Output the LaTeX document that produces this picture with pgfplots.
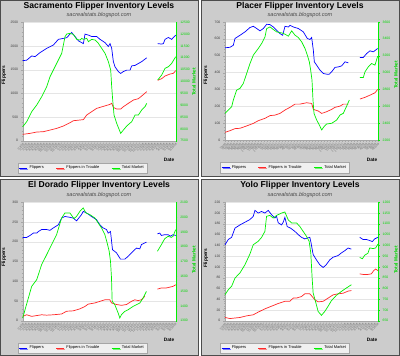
\documentclass[border=0pt]{standalone}
\usepackage{pgfplots}
\pgfplotsset{compat=1.18}
\usepackage{pgfplotstable}
\usepackage{fontspec}
\setmainfont{Liberation Sans}
\usetikzlibrary{shadows}
\definecolor{lblue}{RGB}{0,0,255}
\definecolor{lred}{RGB}{255,40,40}
\definecolor{lgreen}{RGB}{0,240,0}
\definecolor{tgreen}{RGB}{0,215,0}
\definecolor{panelgray}{RGB}{204,204,204}
\newcommand\tickfont{\fontsize{3.4}{4}\selectfont}
\newcommand\xtickfont{\fontsize{2.8}{3}\selectfont}
\newcommand\legfont{\fontsize{4}{5}\selectfont}
\newcommand\titlefont{\fontsize{8.6}{10}\selectfont\bfseries}
\newcommand\subfont{\fontsize{5.6}{6}\selectfont\itshape}
\newcommand\labfont{\fontsize{4.8}{6}\selectfont\bfseries}

\pgfplotsset{
  datelabels/.style={xticklabels={7/3/06,7/17/06,7/31/06,8/14/06,8/28/06,9/11/06,9/25/06,10/9/06,10/23/06,11/6/06,11/20/06,12/4/06,12/18/06,1/1/07,1/15/07,1/29/07,2/12/07,2/26/07,3/12/07,3/26/07,4/9/07,4/23/07,5/7/07,5/21/07,6/4/07,6/18/07,7/2/07,7/16/07,7/30/07,8/13/07,8/27/07,9/10/07,9/24/07,10/8/07,10/22/07,11/5/07,11/19/07,12/3/07,12/17/07,12/31/07,1/14/08,1/28/08,2/11/08,2/25/08,3/10/08,3/24/08,4/7/08,4/21/08,5/5/08,5/19/08,6/2/08,6/16/08}},
  panelbase/.style={scale only axis, width=153pt, height=118.4pt, anchor=south west,
    unbounded coords=jump, /pgf/number format/assume math mode=true,
    /pgf/number format/1000 sep={}, scaled y ticks=false, clip=false},
  leftax/.style={panelbase, axis background/.style={fill=white},
    axis y line*=left, axis x line*=bottom,
    axis line style={gray!70, line width=0.3pt},
    ymajorgrids, grid style={gray!20, line width=0.3pt},
    minor y tick num=4, tick style={gray!70, line width=0.25pt},
    major tick length=1.6pt, minor tick length=1pt, tick align=outside,
    yticklabel style={font=\tickfont, text=black!75, xshift=0.5pt},
    datelabels,
    xticklabel style={font=\xtickfont, text=black!60, rotate=45, anchor=north east, inner sep=0.5pt}},
  rightax/.style={panelbase, axis y line*=right, axis x line=none,
    axis line style={lgreen, line width=0.3pt},
    minor y tick num=4, tick style={lgreen, line width=0.25pt},
    major tick length=1.6pt, minor tick length=1pt, tick align=outside,
    yticklabel style={font=\tickfont, text=tgreen, xshift=-0.5pt},
    legend columns=3,
    legend style={at={(0.39,-0.23)}, anchor=center, font=\legfont,
      fill=gray!12, draw=gray!70, line width=0.3pt, inner sep=1pt,
      drop shadow={shadow xshift=1pt, shadow yshift=-1pt, fill=gray!55},
      /tikz/every even column/.append style={column sep=10pt}},
    legend image code/.code={\draw[#1, line width=0.6pt] (0pt,0pt) -- (8pt,0pt);}},
  bl/.style={lblue, line width=0.7pt},
  rd/.style={lred, line width=0.7pt},
  gr/.style={lgreen, line width=0.7pt},
}

% ---------------- Sacramento ----------------
\pgfplotstableread{
x y
68 1690
80 1700
95 1790
105 1775
120 1860
140 1950
160 2020
175 2140
190 2160
200 2176
210 2250
215 2285
225 2200
235 2110
245 2070
250 2050
255 2250
265 2230
275 2200
290 2200
300 2140
315 2070
325 1990
330 2050
335 1950
340 1670
345 1560
355 1460
362 1420
370 1460
380 1490
390 1490
395 1580
405 1590
415 1630
425 1670
440 1750
nan nan
473 2050
485 2040
490 2050
495 2140
505 2180
515 2140
520 2180
527 2230
}\sacB
\pgfplotstableread{
x y
68 134
90 155
110 183
130 190
150 225
170 260
190 310
210 380
220 422
240 437
250 445
260 542
270 590
290 683
300 704
320 746
330 768
335 790
340 704
350 669
362 669
370 718
385 789
400 859
415 887
425 944
440 1035
nan nan
473 1275
485 1310
495 1366
510 1408
520 1422
527 1479
}\sacR
\pgfplotstableread{
x y
68 8091
80 8303
95 8725
110 9007
125 9359
140 9781
150 10203
160 10485
175 10907
185 11189
195 11893
200 12005
210 12034
220 11991
230 11780
240 11752
245 11822
250 11780
260 11822
265 11682
275 11780
285 11752
295 11611
305 11400
315 11189
325 10837
332 10485
335 9781
338 9218
342 8584
350 8232
362 7810
370 7950
380 8120
395 8303
405 8584
415 8584
425 8795
435 8936
440 9077
nan nan
473 10063
485 10274
495 10555
505 10626
515 10767
527 11048
}\sacG
% ---------------- Placer ----------------
\pgfplotstableread{
x y
75 547
90 550
100 562
105 602
120 621
135 641
150 667
160 674
170 661
180 647
190 661
200 686
210 684
220 670
230 651
240 631
248 621
255 674
265 670
270 680
280 670
295 661
310 641
322 602
330 596
335 608
340 533
343 464
350 444
360 415
370 395
380 391
388 391
395 405
405 431
415 434
425 440
435 464
445 458
nan nan
480 490
490 490
500 513
510 529
520 523
533 543
}\plaB
\pgfplotstableread{
x y
75 47
90 57
105 69
120 71
140 85
160 100
175 116
195 130
210 146
225 149
240 159
255 179
270 195
285 214
300 214
320 222
335 218
340 183
355 173
365 159
380 169
395 183
405 195
420 202
430 214
445 214
nan nan
480 244
495 254
510 267
525 281
533 301
}\plaR
\pgfplotstableread{
x y
75 2519
85 2558
95 2597
100 2676
110 2794
120 2814
130 2873
140 2991
150 3108
160 3207
175 3286
185 3345
195 3423
200 3521
210 3541
220 3510
230 3482
245 3470
255 3455
265 3431
275 3494
285 3443
295 3415
305 3364
315 3286
322 3207
328 3128
332 3030
336 2912
339 2676
342 2519
350 2440
358 2381
365 2322
372 2361
380 2393
395 2401
410 2440
420 2499
430 2519
440 2605
448 2676
nan nan
480 2943
490 2943
495 3010
505 3069
515 3108
525 3089
533 3195
}\plaG
% ---------------- El Dorado ----------------
\pgfplotstableread{
x y
68 211
80 211
90 216
100 222
110 222
115 226
125 231
140 231
150 229
160 235
175 243
185 260
195 264
210 262
220 260
230 253
245 269
250 277
260 273
275 264
290 256
300 243
310 235
320 231
325 222
332 226
338 180
350 172
362 156
375 156
385 163
400 176
410 184
420 182
425 193
440 199
nan nan
473 220
480 222
485 216
495 218
505 218
512 214
520 218
528 216
}\elB
\pgfplotstableread{
x y
68 11
80 15
95 11
110 13
125 15
140 14
160 15
185 17
200 24
220 25
240 30
255 36
265 42
285 45
300 49
315 53
330 53
335 45
350 41
365 39
380 41
395 49
405 53
415 51
425 53
435 62
nan nan
473 80
485 83
500 83
510 85
520 87
528 91
}\elR
\pgfplotstableread{
x y
68 1318
75 1374
85 1453
95 1532
110 1577
125 1679
140 1746
155 1814
170 1882
185 1994
195 2028
210 2028
222 1990
230 2005
240 2039
250 2062
258 2028
270 2017
285 1994
295 1960
305 1927
315 1882
322 1825
328 1769
332 1701
335 1589
337 1431
345 1408
355 1352
360 1318
365 1341
375 1363
385 1374
400 1397
410 1408
420 1419
430 1453
440 1498
nan nan
473 1769
485 1814
495 1854
505 1870
515 1863
520 1870
528 1915
}\elG
% ---------------- Yolo ----------------
\pgfplotstableread{
x y
75 141
85 151
95 155
105 172
120 178
135 183
150 188
160 194
165 205
175 200
185 203
195 200
205 205
215 197
225 191
230 194
235 182
245 178
250 183
255 192
262 175
272 172
285 166
295 160
305 155
315 152
325 154
330 155
333 147
340 123
350 113
360 104
370 99
378 103
390 113
400 118
415 121
425 126
435 130
445 135
455 133
nan nan
480 155
490 151
500 151
510 149
518 147
525 152
535 155
}\yoB
\pgfplotstableread{
x y
75 6
90 4
105 5
120 6
140 9
160 11
175 16
195 22
215 27
235 32
255 36
270 36
280 42
290 42
305 45
315 50
330 50
337 45
345 39
355 35
370 36
385 42
400 48
415 50
430 51
445 55
455 56
nan nan
480 87
490 86
505 86
515 87
522 93
528 96
535 93
}\yoR
\pgfplotstableread{
x y
75 771
85 794
95 810
105 848
120 872
135 910
150 960
160 1003
175 1019
185 1037
195 1065
200 1135
210 1139
220 1127
230 1139
245 1150
255 1155
265 1119
275 1104
290 1104
300 1088
310 1065
320 1042
328 1019
333 964
337 848
340 779
347 740
355 693
365 675
375 693
385 717
395 743
410 768
425 786
440 802
455 817
nan nan
480 944
488 938
495 954
505 964
510 988
520 985
528 988
535 1006
}\yoG

\begin{document}
\begin{tikzpicture}[x=1pt,y=1pt]
\useasboundingbox (0,0) rectangle (400,-356);
\fill[white] (0,0) rectangle (400,-356);
\draw[gray!60!black, fill=panelgray, line width=0.5pt] (0.5,-0.5) rectangle (198.5,-176.5);
\draw[gray!60!black, fill=panelgray, line width=0.5pt] (201.5,-0.5) rectangle (399.5,-176.5);
\draw[gray!60!black, fill=panelgray, line width=0.5pt] (0.5,-179.5) rectangle (198.5,-355.5);
\draw[gray!60!black, fill=panelgray, line width=0.5pt] (201.5,-179.5) rectangle (399.5,-355.5);

% titles
\node[font=\titlefont] at (99,-6) {Sacramento Flipper Inventory Levels};
\node[font=\subfont, text=black!70] at (99,-15.5) {sacrealstats.blogspot.com};
\node[font=\titlefont] at (300,-6) {Placer Flipper Inventory Levels};
\node[font=\subfont, text=black!70] at (300,-15.5) {sacrealstats.blogspot.com};
\node[font=\titlefont] at (99,-185.5) {El Dorado Flipper Inventory Levels};
\node[font=\subfont, text=black!70] at (99,-195.5) {sacrealstats.blogspot.com};
\node[font=\titlefont] at (300,-185.5) {Yolo Flipper Inventory Levels};
\node[font=\subfont, text=black!70] at (300,-195.5) {sacrealstats.blogspot.com};

% axis labels
\node[font=\labfont, rotate=90] at (4,-75) {Flippers};
\node[font=\labfont, rotate=90] at (206,-75) {Flippers};
\node[font=\labfont, rotate=90] at (4,-257) {Flippers};
\node[font=\labfont, rotate=90] at (206,-258) {Flippers};
\node[font=\labfont, rotate=90, text=tgreen] at (194,-82) {Total Market};
\node[font=\labfont, rotate=90, text=tgreen] at (396,-75) {Total Market};
\node[font=\labfont, rotate=90, text=tgreen] at (194,-260) {Total Market};
\node[font=\labfont, rotate=90, text=tgreen] at (396,-260) {Total Market};
\node[font=\labfont] at (169,-160) {Date};
\node[font=\labfont] at (372,-160) {Date};
\node[font=\labfont] at (169,-340) {Date};
\node[font=\labfont] at (372,-340) {Date};

% ---- Sacramento
\begin{axis}[leftax, at={(22.7pt,-140.7pt)}, xmin=68, xmax=527, xtick={68,77,...,527},
  ymin=0, ymax=2500, ytick={0,500,...,2500}]
\addplot[bl] table {\sacB};
\addplot[rd] table {\sacR};
\end{axis}
\begin{axis}[rightax, at={(22.7pt,-140.7pt)}, xmin=68, xmax=527,
  ymin=7500, ymax=12500, ytick={7500,8000,...,12500}]
\addlegendimage{bl}\addlegendentry{Flippers}
\addlegendimage{rd}\addlegendentry{Flippers in Trouble}
\addplot[gr] table {\sacG};\addlegendentry{Total Market}
\end{axis}

% ---- Placer
\begin{axis}[leftax, at={(225pt,-140.3pt)}, xmin=75, xmax=534, xtick={75,84,...,534},
  ymin=0, ymax=700, ytick={0,100,...,700}]
\addplot[bl] table {\plaB};
\addplot[rd] table {\plaR};
\end{axis}
\begin{axis}[rightax, at={(225pt,-140.3pt)}, xmin=75, xmax=534,
  ymin=2200, ymax=3600, ytick={2200,2400,...,3600}]
\addlegendimage{bl}\addlegendentry{Flippers}
\addlegendimage{rd}\addlegendentry{Flippers in Trouble}
\addplot[gr] table {\plaG};\addlegendentry{Total Market}
\end{axis}

% ---- El Dorado
\begin{axis}[leftax, at={(22.7pt,-320.7pt)}, xmin=68, xmax=528, xtick={68,77,...,527},
  ymin=0, ymax=300, ytick={0,50,...,300}]
\addplot[bl] table {\elB};
\addplot[rd] table {\elR};
\end{axis}
\begin{axis}[rightax, at={(22.7pt,-320.7pt)}, xmin=68, xmax=528,
  ymin=1300, ymax=2100, ytick={1300,1400,...,2100}]
\addlegendimage{bl}\addlegendentry{Flippers}
\addlegendimage{rd}\addlegendentry{Flippers in Trouble}
\addplot[gr] table {\elG};\addlegendentry{Total Market}
\end{axis}

% ---- Yolo
\begin{axis}[leftax, at={(225pt,-320.7pt)}, xmin=75, xmax=535, xtick={75,84,...,534},
  ymin=0, ymax=220, ytick={0,20,...,220}]
\addplot[bl] table {\yoB};
\addplot[rd] table {\yoR};
\end{axis}
\begin{axis}[rightax, at={(225pt,-320.7pt)}, xmin=75, xmax=535,
  ymin=650, ymax=1200, ytick={650,700,...,1200}]
\addlegendimage{bl}\addlegendentry{Flippers}
\addlegendimage{rd}\addlegendentry{Flippers in Trouble}
\addplot[gr] table {\yoG};\addlegendentry{Total Market}
\end{axis}
\end{tikzpicture}
\end{document}
